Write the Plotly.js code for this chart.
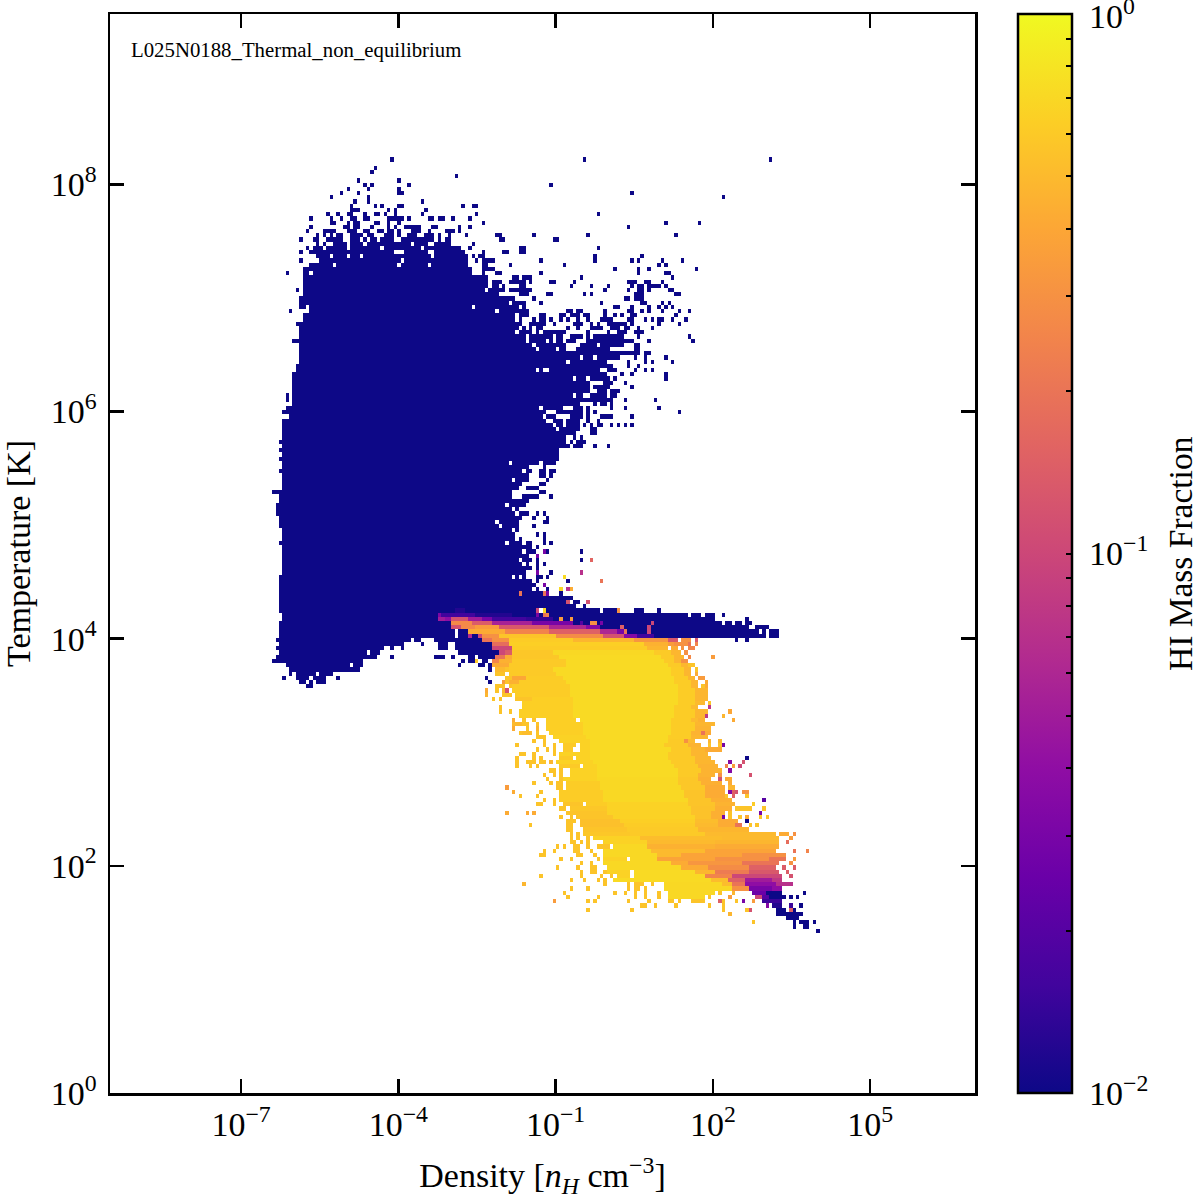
<!DOCTYPE html>
<html><head><meta charset="utf-8">
<script src="https://cdn.plot.ly/plotly-3.0.1.min.js"></script>
<style>html,body{margin:0;padding:0;background:#fff}</style></head>
<body><div id="chart" style="width:1200px;height:1200px"></div>
<script>
// Histogram grid: 256 x 256 logarithmic bins
const binCount = 256;
const logDensityRange = [-9.5, 7];
const logTemperatureRange = [0, 9.5];
const simulationLabel = "L025N0188_Thermal_non_equilibrium";
const densityTickValues = [1e-7, 1e-4, 1e-1, 1e2, 1e5];
const densityTickLabels = ["10<sup>−7</sup>", "10<sup>−4</sup>", "10<sup>−1</sup>", "10<sup>2</sup>", "10<sup>5</sup>"];
const temperatureTickValues = [1, 1e2, 1e4, 1e6, 1e8];
const temperatureTickLabels = ["10<sup>0</sup>", "10<sup>2</sup>", "10<sup>4</sup>", "10<sup>6</sup>", "10<sup>8</sup>"];
const fractionTickValues = [.01,.02,.03,.04,.05,.06,.07,.08,.09,.1,.2,.3,.4,.5,.6,.7,.8,.9];
const fractionTickLabels = ["\u00A010<sup>−2</sup>","","","","","","","","","\u00A010<sup>−1</sup>","","","","","","","",""];
const fractionTopLabel = "10<sup>0</sup>";
const plasmaStops = ["#0d0887","#41049d","#6a00a8","#8f0da4","#b12a90","#cc4778","#e16462","#f2844b","#fca636","#fcce25","#f0f921"];

// "row: col col-col ..." runs of occupied bins, HI fraction at the floor (hot / ionised gas)
const ionisedGasRows = [
"221: 83 140 195","219: 78","218: 77","217: 102","216: 73 85","215: 75 77 88 130","214: 70 76 85","213: 68 73 85-86 154","212: 65 76 181","211: 72 76 92",
"210: 71 78 80 85-86 104 107-108","209: 71-73 82 84 93","208: 64 67 70-71 75 78-79 81 84 92 108 144",
"207: 59 65 68 71-72 75-76 82-86 88 94-95 97-98 101 106","206: 65-66 70 72-73 78-79 82 85 110 164 174",
"205: 59 69-70 72-73 77 82 84 87-91 95-96 103 106 153","204: 58 63-66 70-72 75-76 79-80 82-83 85 89-91 94 99-101 103",
"203: 61 63 65 67-68 71-74 76-77 81-83 85 88-90 93-95 97 100 105 114-115 125 141 167","202: 56 60-61 64-68 71-73 75 77-78 80-83 86-90 91-95 97 99-100 115-116 131-132",
"201: 61 63 66-69 71-74 76-79 80-88 90-93 96-100 107","200: 58 60-62 64-69 71-79 81-91 93-103 106 121-122 144",
"199: 56 59-83 87-93 96-104 110 116-117 121-122","198: 61-64 66-69 71-73 75-94 96-105 107 109-110 143 157",
"197: 56 62-85 87-105 108 110-113 127 143 154 156 163 169","196: 59-65 67-84 86-93 95-105 110-111 118 134 162 164",
"195: 57-106 110-113 149 156 159 173","194: 52 57-58 60-106 110 114-115 127 156 164-165","193: 57-106 107-111 119-120 122-124 139 166",
"192: 57-106 107-111 113-115 118-122 124 130-131 137 153-155 158-159 163","191: 57-108 109-111 113-114 116 121-122 136 142 147 154 156-157 159-162 164",
"190: 55 57-110 112-116 118-124 146 153 156-157 159 165-166","189: 57-114 121-123 129-130 140 142 155-157 167-168","188: 56-116 117-119 125 152-153 155-157",
"187: 56-116 117 119-122 127 145 157-158 163 165","186: 56-57 59-106 108-117 118-120 122 149-150 154 159 162 164 166",
"185: 53 59-113 115-118 119-123 135-136 138-139 146 153-154 157 159 163 168 171","184: 57-119 121-123 127-128 133-134 136-138 140-141 146 149 151 154-155 167",
"183: 57-119 121 125 127-128 130 133 135 138 141 145-148 153-154 158 160 162-163 166 170","182: 55-121 124-128 131 137-139 142 144 147-152 154 162 168",
"181: 56-120 122 124 126-127 135 138 142-145 148-150 152-153 156 160","180: 56-119 121-123 124 126 128-134 141 147 150-152 155-157",
"179: 56-122 124-128 129-130 132-133 136-139 141 143 144-149 150-151 156 171","178: 54-56 57-122 124-126 127-128 130 132-133 135-137 141-143 144-149 150-151 152-154 159 172",
"177: 56-124 126-131 132-134 139-142 143 145-148 149-151 155-156","176: 56-125 127-131 133-134 138-142 143-144 145-147 155-156",
"175: 56-152 153-156 158-159","174: 56-138 140-142 144-149 150 155 158 164","173: 56-133 134 136-146 153 158 160 166","172: 55-141 142-148 153 156",
"171: 55-125 127 130-144 147-149 155 158 160","170: 54-143 144-146 151 154 164","169: 54-136 138-140 142-146 147 149 164","168: 54-127 128-141 146-148 152",
"167: 54-141 143-147 154","166: 54-131 132-141 144-146 148-150","165: 52 54-130 131-136 138-139 142-143 144-146 148-149","164: 52 54-130 131-141 142-145 146-148 152 161",
"163: 54-130 131-138 143 145-146 148","162: 52-126 128-133 137-139 141 148 152 162","161: 51-52 53-128 132-138 139 141 143 168","160: 53-127 129-131 136-139 141 145-148 154",
"159: 51-128 131-133 135-138 141 144","158: 51-130 132-133 135-138 140 142 144-145 148 150 152 154","157: 51-131 133-137 138 142-143","156: 51-131 132-137 142-143",
"155: 51-130 131-134 137 139","154: 50-129 130-134 136 138-139 140","153: 51-130 131-135 137-138 139 143 147","152: 50-128 129-132","151: 51-132","150: 50-129 130-132",
"149: 51-117 119-126 128-131","148: 51-123 128","147: 50-121 123-124 127-128 130-131","146: 51-121 122-123 127-128 130","145: 51-118 120-122 123 129","144: 51-121 127-128",
"143: 51-120 123-126","142: 48-49 50-118 127-128","141: 50-118 122-126 130","140: 50-123","139: 49-113 114-116 118-122","138: 49-118 120","137: 49-119 121-123 126 128",
"136: 50-120 121 125 129","135: 50-113 115-119 120 128-129","134: 50-114 116-120 125","133: 51-118 120","132: 51-119 126 128","131: 51-119 121 128",
"130: 50-116 118-121 123-124 128 130","129: 51-122 123-124 126","128: 51-121 123-125 129 139","127: 51-120 121-123","126: 51-120 122-124 126 139","125: 51-121 123 126 128",
"124: 51-124 126","123: 51-122 130 ","122: 50-118 120 122 126 127 129","121: 50-124 126 135","120: 50-125","119: 50-124 126 129","118: 50-120 122-127 133",
"117: 50-136","116: 50-128 129-134 137-138","115: 50-137 140","114: 50-125 129-136 137-140 141-143 144 146-149 155-157 162",
"113: 51-170 172-173 174 176-178 181","112: 51-178 188","111: 50-180 182-183 185-186 188-189","110: 50-188 191-194","109: 50-101 103-191 193 195-197","108: 50-101 103-193 195-197",
"107: 49-88 90-91 96-111 185 188","106: 50-86 92 97-99 102-112","105: 49-80 83 86 97-99 102-113","104: 50-75 77-79 103-114","103: 49-78 83 96-98 101 106-107 109-113",
"102: 48-74 104 106-107 110-111","101: 52-70 72-74 103 109-110 112","100: 53-71 72-73 112","99: 53 55-60 62-65","98: 51 55-58 60-63 67 111","97: 56-57 59 61-63 112","96: 58-59"
];

// "row: col-col@fraction ..." neutral gas: the band near 10^4 K and the cold cloud below it
const neutralGasRows = [
"128: 128@.03","127: 126@.03","126: 142@.16","123: 126@.03 139@.07","122: 134@.72","121: 145@.2","120: 128@.03","119: 133@.7 135@.07 136@.42",
"118: 121@.2 128@.2 129@.03","116: 135@.12 141@.12","114: 102-104@.012 126@.1 128@.7 150@.3",
"113: 97@.032 98-107@.016 108-118@.012 126@.03 128@.2 129@.25","112: 97-98@.05 99-100@.04 101-105@.12 106-109@.05 110-112@.03 113-122@.016 123-130@.014 133@.35 136@.35",
"111: 101-106@.27 107-112@.14 113-124@.055 125-136@.03 139@.02 142-143@.3 145@.03 160@.1","110: 101-103@.12 104-107@.27 108-114@.35 115-129@.13 130-140@.06 141-144@.035 151@.15 159@.1",
"109: 106-116@.42 117-129@.25 130-144@.15 145-149@.06 150-151@.03 152@.2 159@.1","108: 106@.06 109@.1 110-114@.3 115-131@.56 132-145@.28 146-151@.12 152-155@.035 156-160@.016",
"107: 110-112@.2 113-117@.3 118-136@.62 137-154@.48 155-164@.32 165-167@.13 169-171@.3 173@.13",
"106: 113-117@.18 118-157@.64 158-164@.45 165-166@.35 167-168@.3 169-170@.3 171@.2 173@.25",
"105: 113-118@.1 119-158@.62 159-164@.48 166-167@.42 169@.3 171-172@.25",
"104: 115-116@.1 117-118@.14 119-130@.58 131-160@.7 161-165@.6 166-168@.48 170@.3",
"103: 114-116@.2 117-118@.42 119-132@.58 133-162@.72 163-166@.6 167-169@.48 171@.27 178@.35",
"102: 108@.58 113-114@.25 115-118@.45 119-134@.6 135-163@.72 164-166@.6 167-168@.48 169-170@.3",
"101: 113-117@.42 118-134@.6 135-164@.72 165-168@.6 169-170@.48 171-172@.56","100: 114-116@.5 117@.56 118-130@.6 131-165@.72 166-169@.62 170-171@.48 173@.56",
"99: 114-116@.56 118-131@.6 132-165@.72 166-169@.62 170-171@.48 173@.42","98: 117-118@.56 119-122@.4 123-133@.62 134-166@.72 167-170@.62 171-172@.48 174-175@.35",
"97: 116@.35 117@.56 118-120@.45 121-134@.62 135-166@.72 167-171@.62 172-173@.48 176@.42","96: 114-116@.56 118@.56 119-135@.62 136-167@.72 168-171@.62 172-173@.48 175@.56 176@.42",
"95: 111@.42 114@.56 116@.48 117@.12 119-135@.62 136-167@.72 168-172@.62 173-176@.48","94: 111@.48 116-118@.56 120-135@.62 136-167@.72 168-172@.62 173-176@.48",
"93: 113@.56 115@.56 120-124@.56 125-136@.64 137-167@.72 168-172@.62 173-176@.48","92: 122-136@.64 137-167@.72 168-172@.62 173-175@.5 177@.56",
"91: 115@.56 122-136@.64 137-166@.72 167-171@.62 172-173@.5 177@.08","90: 115@.56 118@.56 121-136@.64 137-166@.72 167-172@.62 173-176@.48 183@.4",
"89: 121-136@.64 137-166@.72 167-172@.62 173-175@.48 176@.08 181@.48","88: 119@.42 122@.56 125@.56 129-137@.64 139-165@.72 166-171@.62 172-173@.5 174-175@.45 184@.42",
"87: 119-121@.5 122-123@.56 126@.56 129-139@.64 140-165@.72 166-172@.62 173-178@.48","86: 119@.42 123@.56 126@.48 129-139@.64 140-165@.72 166-172@.62 173-177@.46",
"85: 121@.56 122-124@.52 126@.56 130-139@.64 140-165@.72 166-171@.62 172-174@.46 175@.2 176-177@.42","84: 126-128@.56 131-140@.66 141-164@.72 165-171@.62 172-176@.48",
"83: 125@.56 128@.56 133-141@.66 142-164@.72 165-169@.6 170@.3 171-172@.5 177@.48 180@.48","82: 120@.56 128@.56 131@.56 134-137@.6 139-141@.66 142-163@.72 164-170@.6 171-174@.46 177@.56 180@.56 181@.03",
"81: 126@.56 129@.56 131@.56 134-136@.6 139-141@.66 142-165@.72 166-171@.6 172-175@.48 176-180@.42","80: 121-122@.56 125@.56 131@.56 133-141@.66 142-164@.72 165-171@.6 172-176@.48",
"79: 120@.56 125@.56 127@.56 133-136@.6 138-141@.66 142-164@.72 165-172@.6 173-177@.48 188@.01","78: 120@.56 123-125@.56 127-128@.56 130@.48 132-142@.66 143-165@.72 166-172@.6 173-178@.48 183@.035 187@.12",
"77: 120@.56 124@.56 126@.56 133-138@.6 140-143@.66 144-166@.72 167-173@.6 174-179@.46 182@.25 184@.35 186@.1","76: 130-131@.56 133@.56 136-143@.66 144-167@.72 168-174@.6 175-180@.46 183@.035",
"75: 128@.56 131@.56 133@.56 136-143@.66 144-167@.72 168-173@.6 174-178@.46 180@.3 189@.12","74: 129@.56 133@.56 134-143@.66 144-167@.7 168-173@.58 174-177@.44 180@.12 182-183@.42",
"73: 125@.56 130@.56 132-133@.56 135-144@.62 145-167@.7 168-174@.58 175-180@.44 183@.42","72: 117@.35 132-133@.56 135-144@.62 145-168@.7 169-175@.58 176-181@.42 183-184@.48",
"71: 119@.42 127@.56 133-145@.62 146-169@.7 170-175@.56 176-181@.42 183@.035 184@.15 185@.12 187-188@.3","70: 121@.56 126@.56 133-145@.62 146-169@.7 170-175@.56 176-181@.42 182@.56 184@.15 188@.56",
"69: 128@.56 131@.56 133-145@.62 146-170@.7 171-177@.56 178-183@.44 193@.02","68: 126-127@.56 131@.56 134-139@.56 141-146@.62 147-170@.66 171-178@.56 179-184@.46 190@.62",
"67: 133-134@.56 136-146@.58 147-171@.66 172-178@.55 179-183@.44 185-189@.56 193@.56","66: 117@.42 123@.42 125@.42 135-146@.56 147-171@.66 172-177@.55 178-181@.44 183@.56 192@.03",
"65: 133@.56 136@.56 138-148@.56 149-172@.66 173-177@.55 178-180@.44 181@.03 183@.56 186@.56 188@.42 192@.56 194@.56","64: 135-137@.56 139-150@.54 151-172@.64 173-179@.52 180-185@.42 188@.01",
"63: 124@.56 135-136@.56 139-151@.54 152-172@.62 173-179@.5 180-184@.42 185-186@.2 189@.56 191@.56","62: 135-136@.56 140-152@.56 153-173@.6 174-188@.48",
"61: 136@.56 138@.56 140-153@.58 154-175@.6 176-196@.5 198-200@.42 202@.3","60: 136@.56 138@.56 141@.56 143-156@.66 157-180@.52 181-197@.5 201@.35",
"59: 136-137@.56 139@.56 141@.56 146-158@.66 159-178@.5 179-197@.48 200@.18","58: 132@.56 134@.56 137-138@.56 141@.56 144-147@.56 149-158@.7 159-178@.45 179-197@.42",
"57: 128@.56 131@.56 137-138@.56 142@.56 146-159@.7 160-175@.5 176-196@.38 202@.2 206@.25","56: 127-128@.56 138-139@.56 143@.56 146-161@.7 162-168@.5 169-186@.38 187-199@.3",
"55: 133@.56 136@.56 144@.56 146-152@.66 154-161@.7 162-178@.38 179-194@.3 195-199@.2 202@.35","54: 139@.56 142@.56 146-165@.7 166-170@.42 171-186@.32 187-197@.2 201@.3",
"53: 132@.56 138@.56 142-143@.56 147-168@.7 169-176@.42 177-188@.28 189-196@.15 199@.14 202@.14","52: 139@.56 142-143@.56 146@.56 147-153@.66 155-172@.72 173-178@.48 179-188@.22 189-197@.13 200@.14",
"51: 127@.56 139@.56 145@.56 148@.56 150-153@.66 155-175@.72 176-183@.25 184-194@.1 195-198@.1 201@.12","50: 136@.56 140@.56 144@.56 146@.56 149-177@.72 178-182@.52 183-187@.15 188-195@.05 196-198@.08",
"49: 122@.48 146@.56 153@.56 155-157@.56 160@.56 164-180@.7 181-183@.52 184-187@.2 188-196@.04 197-201@.07","48: 136@.56 141@.56 153@.56 155-156@.56 158@.56 164-183@.7 184-188@.3 189-195@.03 196-198@.04",
"47: 134@.56 149@.56 152@.56 155@.56 158@.56 162@.56 165-178@.7 180@.56 184@.48 190-193@.025 194-198@.01 205@.01","46: 135@.56 144@.56 155@.56 158@.56 162@.56 165-175@.7 177@.56 183@.35 191-192@.1 193-194@.02 195-199@.01 201@.01 203@.01",
"45: 131@.35 141@.56 143@.56 153@.56 159@.56 165-166@.56 168@.56 172-175@.56 180@.15 181@.56 185@.56 187@.03 190@.35 193-198@.015",
"44: 157-158@.56 161@.56 167@.56 177@.56 181@.56 194@.035 196-198@.012 201@.015 204@.01","43: 141@.56 154@.56 181@.56 188@.56 189@.12 197-199@.01 201@.15 202@.01",
"42: 183@.48 197-204@.01","41: 200-203@.01","40: 190@.56 202@.01 204-206@.01 208@.01","39: 202@.01 205-206@.01","38: 209@.01"
];

const floorFraction = 0.01;
const z = Array.from({length: binCount}, () => new Array(binCount).fill(null));
function addRows(list) {
  list.forEach(line => {
    const [rowText, runs] = line.split(":");
    const row = +rowText;
    runs.trim().split(/\s+/).forEach(token => {
      const [span, val] = token.split("@");
      const [a, b] = span.split("-").map(Number);
      const fraction = val === undefined ? floorFraction : parseFloat(val);
      for (let c = a; c <= (b === undefined ? a : b); c++) z[row][c] = Math.log10(fraction);
    });
  });
}
addRows(ionisedGasRows);
addRows(neutralGasRows);

const xEdges = [], yEdges = [];
for (let i = 0; i <= binCount; i++) {
  xEdges.push(Math.pow(10, logDensityRange[0] + i * (logDensityRange[1] - logDensityRange[0]) / binCount));
  yEdges.push(Math.pow(10, logTemperatureRange[0] + i * (logTemperatureRange[1] - logTemperatureRange[0]) / binCount));
}
const serif = "Liberation Serif";
const axisCommon = {type: "log", showgrid: false, zeroline: false, showline: true, linecolor: "#000", linewidth: 2.5, mirror: "ticks",
  ticks: "inside", ticklen: 14, tickwidth: 2.5, tickcolor: "#000", tickmode: "array", tickfont: {family: serif, size: 34, color: "#000"}};
const trace = {
  type: "heatmap", x: xEdges, y: yEdges, z: z, zmin: -2, zmax: 0, hoverongaps: false, zsmooth: false,
  colorscale: plasmaStops.map((c, i) => [i / (plasmaStops.length - 1), c]),
  colorbar: {x: 1.0497, xanchor: "left", xpad: 0, ypad: 0, y: 0, yanchor: "bottom", len: 1, lenmode: "fraction", thickness: 54, thicknessmode: "pixels",
    outlinewidth: 2.5, outlinecolor: "#000", ticks: "inside", ticklen: 7, tickwidth: 2, tickcolor: "#000",
    tickmode: "array", tickvals: fractionTickValues.map(Math.log10), ticktext: fractionTickLabels,
    tickfont: {family: serif, size: 34, color: "#000"}}
};
const layout = {
  width: 1200, height: 1200, margin: {l: 110, r: 225, t: 14, b: 107}, paper_bgcolor: "#fff", plot_bgcolor: "#fff", font: {family: serif, color: "#000"},
  xaxis: Object.assign({}, axisCommon, {range: logDensityRange, tickvals: densityTickValues, ticktext: densityTickLabels,
    title: {text: "Density [<i>n<sub>H</sub></i> cm<sup>−3</sup>]", font: {family: serif, size: 34, color: "#000"}, standoff: 21}}),
  yaxis: Object.assign({}, axisCommon, {range: logTemperatureRange, tickvals: temperatureTickValues, ticktext: temperatureTickLabels, ticklabelstandoff: 4,
    title: {text: "Temperature [K]", font: {family: serif, size: 34, color: "#000"}, standoff: 22}}),
  shapes: [{type: "line", xref: "paper", yref: "paper", x0: 1.096, x1: 1.112, y0: 0.5, y1: 0.5, line: {color: "#000", width: 2.5}}],
  annotations: [
    {xref: "paper", yref: "paper", x: 0.0222, y: 0.9665, xanchor: "left", yanchor: "middle", showarrow: false, text: simulationLabel, font: {family: serif, size: 20.8, color: "#000"}},
    {xref: "paper", yref: "paper", x: 1.237, y: 0.4995, xanchor: "center", yanchor: "middle", textangle: -90, showarrow: false, text: "HI Mass Fraction", font: {family: serif, size: 33.5, color: "#000"}},
    {xref: "paper", yref: "paper", x: 1.1295, y: 1.0, xanchor: "left", yanchor: "middle", showarrow: false, text: fractionTopLabel, font: {family: serif, size: 34, color: "#000"}}
  ]
};
Plotly.newPlot("chart", [trace], layout, {displayModeBar: false, staticPlot: true});
</script></body></html>
